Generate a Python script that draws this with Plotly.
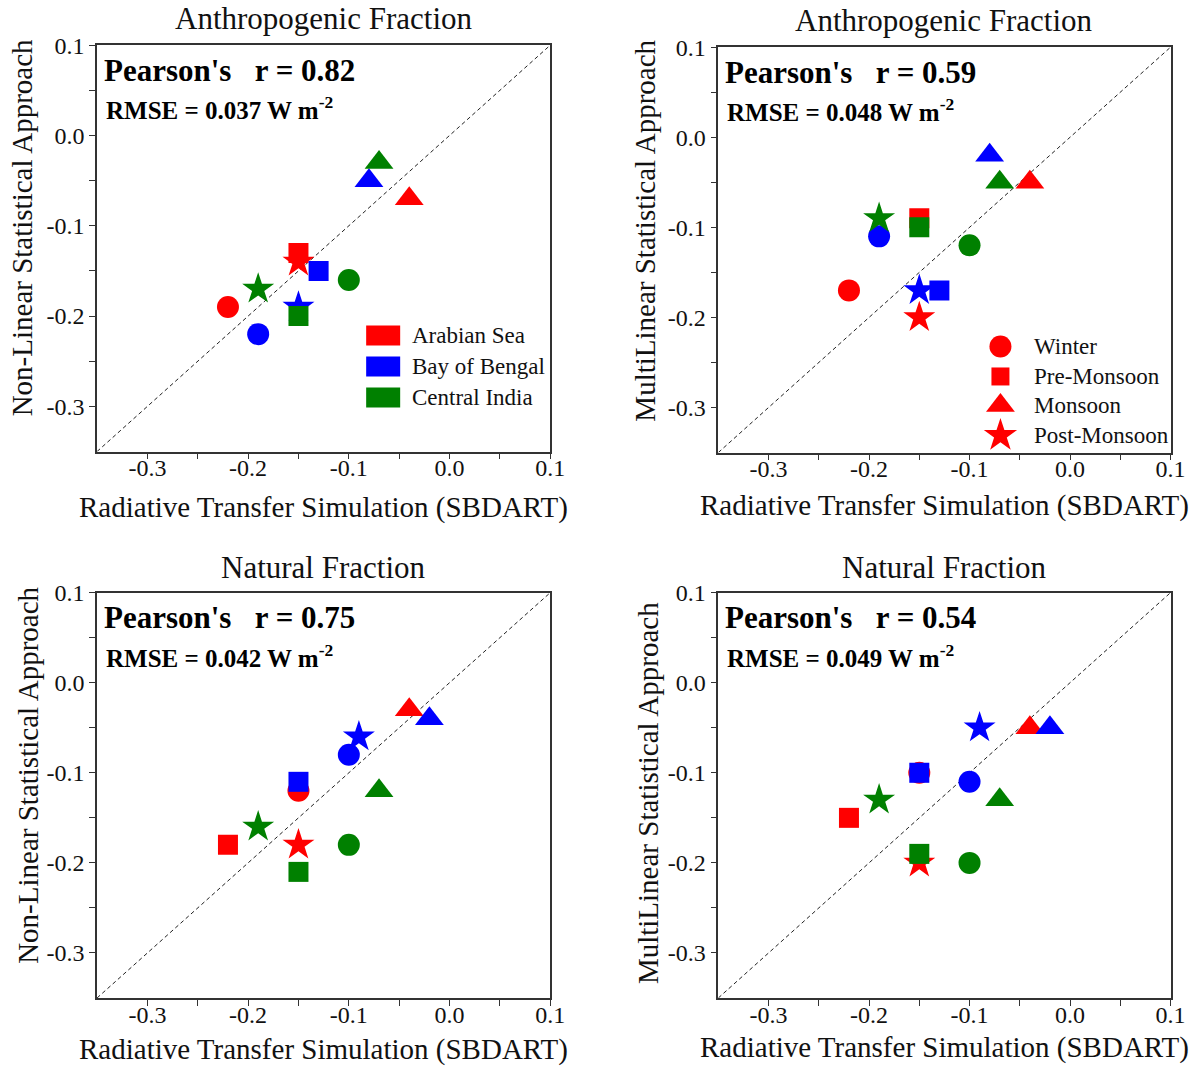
import plotly.graph_objects as go

W, H = 1194, 1068
FONT = "Liberation Serif"

regions = ["Arabian Sea", "Bay of Bengal", "Central India"]
region_colors = ["#ff0000", "#0000ff", "#008000"]
seasons = ["Winter", "Pre-Monsoon", "Monsoon", "Post-Monsoon"]
season_symbols = ["circle", "square", "triangle-up", "star"]
season_sizes = [22, 20, 25, 24]

# SBDART simulated forcing (x), per region, seasons in order above
anth_sbdart_as = [-0.22, -0.15, -0.04, -0.15]
anth_sbdart_bob = [-0.19, -0.13, -0.08, -0.15]
anth_sbdart_ci = [-0.10, -0.15, -0.07, -0.19]

nat_sbdart_as = [-0.15, -0.22, -0.04, -0.15]
nat_sbdart_bob = [-0.10, -0.15, -0.02, -0.09]
nat_sbdart_ci = [-0.10, -0.15, -0.07, -0.19]

# Non-linear statistical approach, anthropogenic fraction
anth_nl_as = [-0.19, -0.13, -0.07, -0.14]
anth_nl_bob = [-0.22, -0.15, -0.05, -0.19]
anth_nl_ci = [-0.16, -0.20, -0.03, -0.17]

# MultiLinear statistical approach, anthropogenic fraction
anth_ml_as = [-0.17, -0.09, -0.05, -0.20]
anth_ml_bob = [-0.11, -0.17, -0.02, -0.17]
anth_ml_ci = [-0.12, -0.10, -0.05, -0.09]

# Non-linear statistical approach, natural fraction
nat_nl_as = [-0.12, -0.18, -0.03, -0.18]
nat_nl_bob = [-0.08, -0.11, -0.04, -0.06]
nat_nl_ci = [-0.18, -0.21, -0.12, -0.16]

# MultiLinear statistical approach, natural fraction
nat_ml_as = [-0.10, -0.15, -0.05, -0.20]
nat_ml_bob = [-0.11, -0.10, -0.05, -0.05]
nat_ml_ci = [-0.20, -0.19, -0.13, -0.13]

pearson_r = ["0.82", "0.59", "0.75", "0.54"]
rmse = ["0.037", "0.048", "0.042", "0.049"]
panel_titles = ["Anthropogenic Fraction", "Anthropogenic Fraction",
                "Natural Fraction", "Natural Fraction"]
y_titles = ["Non-Linear Statistical Approach", "MultiLinear Statistical Approach",
            "Non-Linear Statistical Approach", "MultiLinear Statistical Approach"]
x_title = "Radiative Transfer Simulation (SBDART)"

tick_vals = [-0.3, -0.2, -0.1, 0.0, 0.1]
tick_text = ["-0.3", "-0.2", "-0.1", "0.0", "0.1"]
minor_vals = [-0.25, -0.15, -0.05, 0.05]
axis_range = [-0.35, 0.1]
diag = [-0.35, 0.1]

panels = [
    ([anth_sbdart_as, anth_sbdart_bob, anth_sbdart_ci], [anth_nl_as, anth_nl_bob, anth_nl_ci]),
    ([anth_sbdart_as, anth_sbdart_bob, anth_sbdart_ci], [anth_ml_as, anth_ml_bob, anth_ml_ci]),
    ([nat_sbdart_as, nat_sbdart_bob, nat_sbdart_ci], [nat_nl_as, nat_nl_bob, nat_nl_ci]),
    ([nat_sbdart_as, nat_sbdart_bob, nat_sbdart_ci], [nat_ml_as, nat_ml_bob, nat_ml_ci]),
]

# layout grid (page pixels): plot-area left, right, top, bottom
boxes = [(97, 550, 45, 451), (718, 1170, 47, 452),
         (97, 550, 592, 997), (718, 1170, 592, 997)]
# title rows (page pixels)
title_y = [18, 20, 567, 567]
xtitle_y = [507, 505, 1048, 1046]
# y-title centre positions (page pixels)
ytitle_pos = [(22, 228), (645, 230), (28, 775), (648, 792)]

# page-to-figure mapping used for the layout grid
SCALE = 0.987
TOP_OFF = 13


def px(x, y):
    fx = x / SCALE
    fy = y / SCALE - TOP_OFF
    return fx / W, 1 - fy / H


fig = go.Figure()
layout = dict(
    width=W, height=H, margin=dict(l=0, r=0, t=0, b=0),
    paper_bgcolor="white", plot_bgcolor="rgba(0,0,0,0)", showlegend=False,
    font=dict(family=FONT, color="#111"),
)
annotations = []
shapes = []

for i, ((xs, ys), (l, r, t, b)) in enumerate(zip(panels, boxes)):
    n = i + 1
    xa = "x" if n == 1 else f"x{n}"
    ya = "y" if n == 1 else f"y{n}"
    axis_common = dict(
        range=axis_range, showgrid=False, zeroline=False,
        showline=True, linecolor="#333", linewidth=1.6, mirror=True,
        ticks="outside", ticklen=6, tickwidth=1.4, tickcolor="#333",
        tickvals=tick_vals, ticktext=tick_text,
        tickfont=dict(family=FONT, size=24, color="#111"),
        minor=dict(tickvals=minor_vals, ticks="outside", ticklen=6,
                   tickwidth=1.4, tickcolor="#333"),
    )
    x0, _ = px(l, 0)
    x1, _ = px(r, 0)
    _, y0 = px(0, b)
    _, y1 = px(0, t)
    layout["xaxis" if n == 1 else f"xaxis{n}"] = dict(
        axis_common, domain=[x0, x1], anchor=ya, ticklabelstandoff=-12)
    layout["yaxis" if n == 1 else f"yaxis{n}"] = dict(
        axis_common, domain=[y0, y1], anchor=xa)

    # 1:1 reference line
    fig.add_trace(go.Scatter(
        x=diag, y=diag, mode="lines", xaxis=xa, yaxis=ya,
        line=dict(color="#222", width=1, dash="4px,3px"), hoverinfo="skip"))

    for reg, col, xv, yv in zip(regions, region_colors, xs, ys):
        for k in range(len(seasons)):
            fig.add_trace(go.Scatter(
                x=[xv[k]], y=[yv[k]], mode="markers", xaxis=xa, yaxis=ya,
                name=f"{reg} {seasons[k]}",
                marker=dict(symbol=season_symbols[k], size=season_sizes[k],
                            color=col, opacity=1, line=dict(width=0))))

    # panel title
    cx, cy = px((l + r) / 2, title_y[i])
    annotations.append(dict(
        x=cx, y=cy, xref="paper", yref="paper", text=panel_titles[i],
        showarrow=False, font=dict(family=FONT, size=31, color="#111"),
        xanchor="center", yanchor="middle"))
    # x-axis title
    cx, cy = px((l + r) / 2, xtitle_y[i])
    annotations.append(dict(
        x=cx, y=cy, xref="paper", yref="paper", text=x_title,
        showarrow=False, font=dict(family=FONT, size=29, color="#111"),
        xanchor="center", yanchor="middle"))
    # y-axis title
    cx, cy = px(*ytitle_pos[i])
    annotations.append(dict(
        x=cx, y=cy, xref="paper", yref="paper", text=y_titles[i],
        showarrow=False, textangle=-90,
        font=dict(family=FONT, size=29, color="#111"),
        xanchor="center", yanchor="middle"))
    # statistics
    cx, cy = px(l + 5, t + 25)
    annotations.append(dict(
        x=cx, y=cy, xref="paper", yref="paper",
        text=f"<b>Pearson's\u00a0\u00a0\u00a0r = {pearson_r[i]}</b>",
        showarrow=False, font=dict(family=FONT, size=31, color="#000"),
        xanchor="left", yanchor="middle"))
    cx, cy = px(l + 7, t + 63)
    annotations.append(dict(
        x=cx, y=cy, xref="paper", yref="paper",
        text=f"<b>RMSE = {rmse[i]} W m<sup>-2</sup></b>",
        showarrow=False, font=dict(family=FONT, size=25, color="#000"),
        xanchor="left", yanchor="middle"))

# region legend (colour keys) in the first panel
region_key_y = [335, 366, 397]
for reg, col, ky in zip(regions, region_colors, region_key_y):
    ax0, ay0 = px(366, ky - 10)
    ax1, ay1 = px(400, ky + 10)
    shapes.append(dict(type="rect", xref="paper", yref="paper",
                       x0=ax0, x1=ax1, y0=ay1, y1=ay0,
                       fillcolor=col, line=dict(width=0)))
    tx, ty = px(410, ky)
    annotations.append(dict(
        x=tx, y=ty, xref="paper", yref="paper", text=reg, showarrow=False,
        font=dict(family=FONT, size=23, color="#111"),
        xanchor="left", yanchor="middle"))

# season legend (symbol keys) in the second panel, drawn on a paper-wide overlay
season_key_y = [346, 376, 405, 435]
layout["xaxis5"] = dict(domain=[0, 1], range=[0, 1], visible=False,
                        anchor="y5", fixedrange=True)
layout["yaxis5"] = dict(domain=[0, 1], range=[0, 1], visible=False,
                        anchor="x5", fixedrange=True)
key_pts = [px(1000, ky) for ky in season_key_y]
fig.add_trace(go.Scatter(
    x=[p[0] for p in key_pts], y=[p[1] for p in key_pts], mode="markers",
    xaxis="x5", yaxis="y5", hoverinfo="skip",
    marker=dict(symbol=season_symbols, size=[22, 18, 25, 25],
                color=region_colors[0], opacity=1, line=dict(width=0))))
for s, ky in zip(seasons, season_key_y):
    tx, ty = px(1032, ky)
    annotations.append(dict(
        x=tx, y=ty, xref="paper", yref="paper", text=s, showarrow=False,
        font=dict(family=FONT, size=23, color="#111"),
        xanchor="left", yanchor="middle"))

layout["annotations"] = annotations
layout["shapes"] = shapes
fig.update_layout(**layout)
fig.write_html("out.html")
